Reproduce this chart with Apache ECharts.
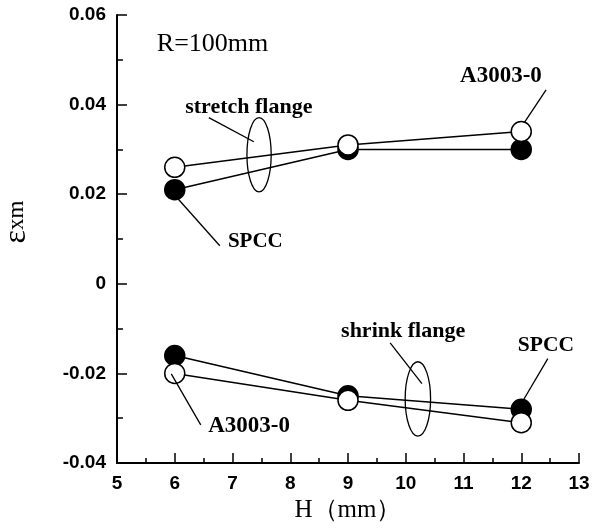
<!DOCTYPE html>
<html>
<head>
<meta charset="utf-8">
<script src="https://cdn.jsdelivr.net/npm/echarts@6/dist/echarts.min.js"></script>
<style>html,body{margin:0;padding:0;background:#fff}#c{width:592px;height:529px}</style>
</head>
<body>
<div id="c"></div>
<script>
// ---- data ----
var H = [6, 9, 12];
var spccStretch = [0.021, 0.030, 0.030];
var a3003Stretch = [0.026, 0.031, 0.034];
var spccShrink = [-0.016, -0.025, -0.028];
var a3003Shrink = [-0.020, -0.026, -0.031];
var xTicks = [5, 6, 7, 8, 9, 10, 11, 12, 13];
var yTicks = [-0.04, -0.02, 0, 0.02, 0.04, 0.06];

// annotations in data coordinates
var texts = [
  {t: 'R=100mm', x: 5.69, y: 0.0534, bold: false, size: 26},
  {t: 'stretch flange', x: 6.18, y: 0.0395, bold: true, size: 22},
  {t: 'SPCC', x: 6.92, y: 0.0094, bold: true, size: 21},
  {t: 'A3003-0', x: 10.94, y: 0.0464, bold: true, size: 23},
  {t: 'shrink flange', x: 8.88, y: -0.0105, bold: true, size: 22},
  {t: 'SPCC', x: 11.94, y: -0.0138, bold: true, size: 21.5},
  {t: 'A3003-0', x: 6.58, y: -0.0317, bold: true, size: 23}
];
var leaders = [
  [[6.59, 0.0371], [7.37, 0.0317]],
  [[6.04, 0.0192], [6.78, 0.0085]],
  [[12.43, 0.0433], [12.05, 0.0359]],
  [[9.73, -0.0132], [10.28, -0.0223]],
  [[12.46, -0.0167], [12.03, -0.0261]],
  [[5.94, -0.0201], [6.45, -0.0315]]
];
var ellipses = [
  {c: [7.46, 0.0288], rx: 0.21, ry: 0.0083},
  {c: [10.21, -0.0257], rx: 0.22, ry: 0.0083}
];

function pairs(xs, ys) { return xs.map(function (x, i) { return [x, ys[i]]; }); }

var chart = echarts.init(document.getElementById('c'), null, {renderer: 'canvas'});
var tickFont = {color: '#000', fontSize: 19, fontWeight: 'bold', fontFamily: 'Liberation Sans'};
function lineSeries(d, filled) {
  return {
    type: 'line', data: d, symbol: 'circle', symbolSize: 20,
    lineStyle: {color: '#000', width: 1.5},
    itemStyle: {color: filled ? '#000' : '#fff', borderColor: '#000', borderWidth: 1.5},
    z: filled ? 2 : 3, animation: false
  };
}
chart.setOption({
  animation: false,
  grid: {left: 117, right: 13, top: 15, bottom: 66, containLabel: false, outerBoundsMode: 'none'},
  xAxis: {
    type: 'value', min: 5, max: 13, interval: 1,
    name: 'H\uFF08mm\uFF09', nameLocation: 'middle', nameGap: 33,
    nameTextStyle: {fontFamily: 'Liberation Serif', fontSize: 25, color: '#000'},
    axisLine: {onZero: false, lineStyle: {color: '#000', width: 2}},
    axisTick: {inside: true, length: 10, lineStyle: {color: '#000', width: 1.5}},
    minorTick: {show: true, splitNumber: 2, length: 5, lineStyle: {color: '#000', width: 1.5}},
    axisLabel: Object.assign({margin: 11, formatter: function (v) { return xTicks.indexOf(v) >= 0 ? String(v) : ''; }}, tickFont),
    splitLine: {show: false}
  },
  yAxis: {
    type: 'value', min: -0.04, max: 0.06, interval: 0.02,
    name: '{e|\u03B5}{s|xm}', nameLocation: 'middle', nameGap: 84, nameRotate: 90,
    nameTextStyle: {color: '#000', padding: [0, 0, 0, 34], rich: {
      e: {fontFamily: 'Liberation Serif', fontSize: 32, color: '#000'},
      s: {fontFamily: 'Liberation Serif', fontSize: 23, color: '#000'}
    }},
    axisLine: {onZero: false, lineStyle: {color: '#000', width: 2}},
    axisTick: {inside: true, length: 10, lineStyle: {color: '#000', width: 1.5}},
    minorTick: {show: true, splitNumber: 2, length: 6, lineStyle: {color: '#000', width: 1.5}},
    axisLabel: Object.assign({margin: 11, formatter: function (v) {
      var r = Math.round(v * 100) / 100;
      for (var i = 0; i < yTicks.length; i++) if (Math.abs(yTicks[i] - r) < 1e-9) return r === 0 ? '0' : r.toFixed(2);
      return '';
    }}, tickFont),
    splitLine: {show: false}
  },
  series: [
    lineSeries(pairs(H, spccStretch), true),
    lineSeries(pairs(H, a3003Stretch), false),
    lineSeries(pairs(H, spccShrink), true),
    lineSeries(pairs(H, a3003Shrink), false)
  ]
});

function px(p) { return chart.convertToPixel({gridIndex: 0}, p); }
var g = [];
texts.forEach(function (a) {
  var p = px([a.x, a.y]);
  g.push({type: 'text', x: p[0], y: p[1], z: 10, style: {
    text: a.t, fill: '#000', font: (a.bold ? 'bold ' : '') + a.size + 'px "Liberation Serif"',
    textAlign: 'left', textVerticalAlign: 'middle', verticalAlign: 'middle'
  }});
});
leaders.forEach(function (l) {
  var a = px(l[0]), b = px(l[1]);
  g.push({type: 'line', z: 10, shape: {x1: a[0], y1: a[1], x2: b[0], y2: b[1]}, style: {stroke: '#000', lineWidth: 1.3}});
});
ellipses.forEach(function (e) {
  var c = px(e.c), r1 = px([e.c[0] + e.rx, e.c[1] + e.ry]);
  g.push({type: 'ellipse', z: 10, shape: {cx: c[0], cy: c[1], rx: Math.abs(r1[0] - c[0]), ry: Math.abs(r1[1] - c[1])},
    style: {fill: 'none', stroke: '#000', lineWidth: 1.3}});
});
chart.setOption({graphic: g});
</script>
</body>
</html>
